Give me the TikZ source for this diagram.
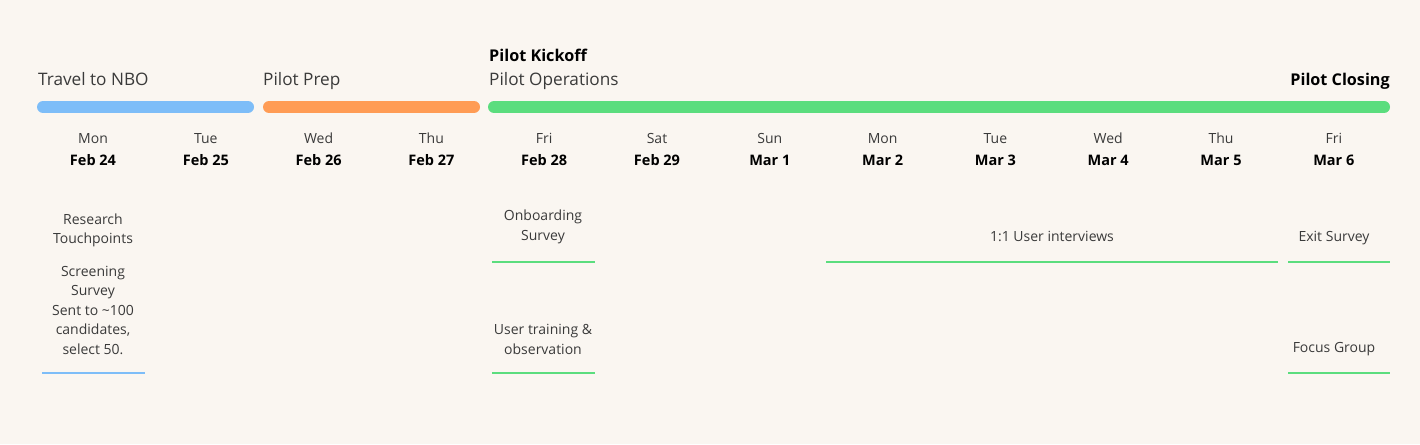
\documentclass[tikz,border=0pt]{standalone}
\usepackage{fontspec}
\setmainfont{Open Sans}
\usetikzlibrary{positioning}
\definecolor{bgcream}{HTML}{FAF6F1}
\definecolor{travelblue}{HTML}{7DBDF8}
\definecolor{prepor}{HTML}{FF9C55}
\definecolor{opsgreen}{HTML}{5BDD7E}
\definecolor{txtgray}{HTML}{3A3A3A}
\tikzset{phase/.style={line width=12pt, line cap=round},
         under/.style={line width=2pt},
         hdr/.style={anchor=base west, inner sep=0pt, text=txtgray, font=\fontsize{17.2}{20}\selectfont},
         hdrbold/.style={hdr, text=black, font=\fontsize{16.2}{20}\selectfont\bfseries},
         dayname/.style={anchor=base, inner sep=0pt, text=txtgray, font=\fontsize{14}{16}\selectfont},
         daydate/.style={anchor=base, inner sep=0pt, text=black, font=\fontsize{14.5}{16}\selectfont\bfseries},
         task/.style={align=center, inner sep=0pt, text=txtgray, font=\fontsize{14}{19.5}\selectfont}
}

\begin{document}
\begin{tikzpicture}[x=1pt,y=-1pt]
  \fill[bgcream] (0,0) rectangle (1420,444);

  % phases
  \draw[phase, travelblue] (43,107) -- (248,107);
  \draw[phase, prepor] (269,107) -- (474,107);
  \draw[phase, opsgreen] (494,107) -- (1384,107);
  \node[hdr] (travel) at (38,85) {Travel to NBO};
  \node[hdr] (prep) at (263,85) {Pilot Prep};
  \node[hdr] (ops) at (489,85) {Pilot Operations};
  \node[hdrbold] (kickoff) at (489,61) {Pilot Kickoff};
  \node[hdrbold, anchor=base east] (closing) at (1390,85) {Pilot Closing};

  % days
  \foreach \d/\dt [count=\i from 0] in {Mon/Feb 24,Tue/Feb 25,Wed/Feb 26,Thu/Feb 27,Fri/Feb 28,Sat/Feb 29,
      Sun/Mar 1,Mon/Mar 2,Tue/Mar 3,Wed/Mar 4,Thu/Mar 5,Fri/Mar 6}{
    \node[dayname] (day\i) at (93+112.8*\i,143) {\d};
    \node[daydate] (date\i) at (93+112.8*\i,165) {\dt};
  }

  % tasks
  \node[task] (touch) at (93,230.5) {Research\\Touchpoints};
  \node[task] (screen) at (93,310) {Screening\\Survey\\Sent to \textasciitilde100\\candidates,\\select 50.};
  \node[task] (onboard) at (543,227) {Onboarding\\Survey};
  \node[task] (training) at (543,339.5) {User training \&\\observation};
  \node[task] (interv) at (1052,236) {1:1 User interviews};
  \node[task] (exit) at (1334,238) {Exit Survey};
  \node[task] (focus) at (1334,349) {Focus Group};

  \draw[under, travelblue] (42,373) -- (145,373);
  \draw[under, opsgreen] (492,262) -- (595,262);
  \draw[under, opsgreen] (492,373) -- (595,373);
  \draw[under, opsgreen] (826,262) -- (1278,262);
  \draw[under, opsgreen] (1288,262) -- (1390,262);
  \draw[under, opsgreen] (1288,373) -- (1390,373);
\end{tikzpicture}
\end{document}
